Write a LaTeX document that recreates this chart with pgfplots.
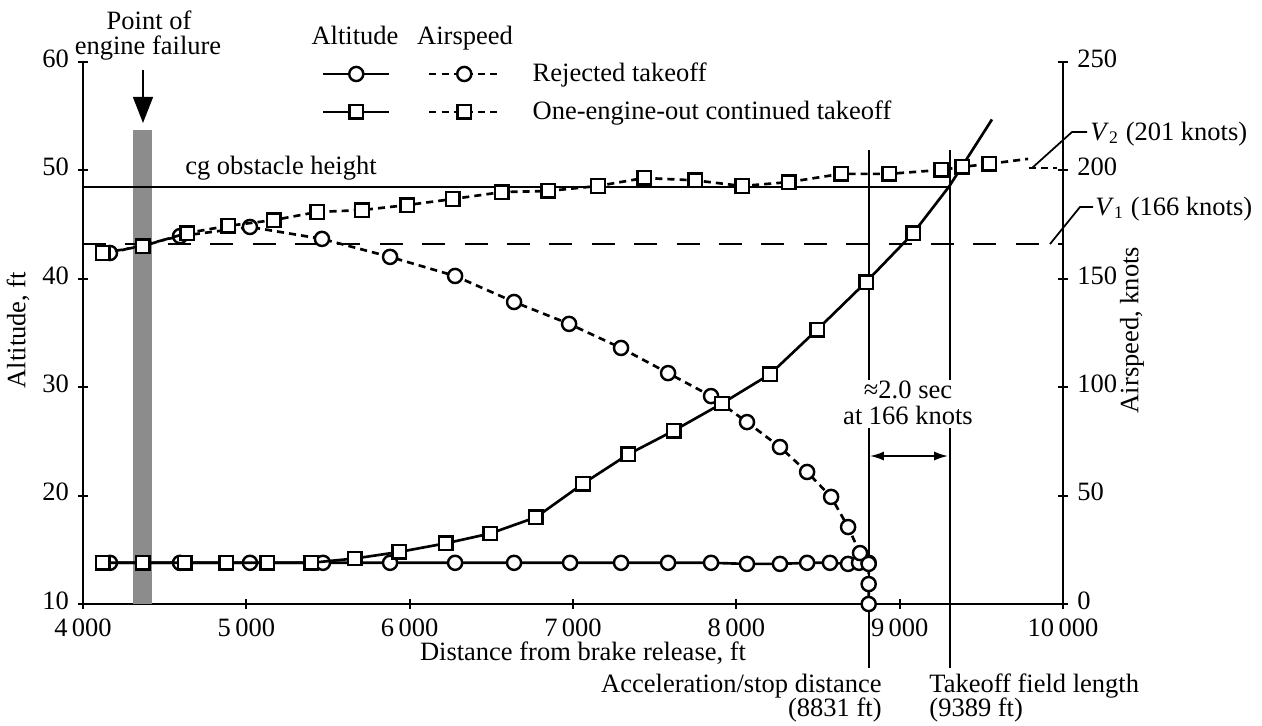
\documentclass[12pt,border=0pt]{standalone}
\usepackage{fontspec}
\setmainfont{Liberation Serif}
\usepackage{pgfplots}
\pgfplotsset{compat=1.18}
\usetikzlibrary{arrows.meta}
\newlength\px
\setlength\px{0.4528pt}
\tikzset{
  circ/.style={line width=1.2pt, mark=*, mark size=3.2pt, mark options={fill=white, solid, line width=1.1pt}},
  sq/.style={line width=1.2pt, mark=square*, mark size=3.05pt, mark options={fill=white, solid, line width=1.1pt}},
  shortdash/.style={dash pattern=on 3.2pt off 2.3pt},
}
\pgfplotsset{
  common/.style={
    width=443.77pt, height=245.43pt, scale only axis,
    at={(0,0)}, anchor=south west,
    xmin=4000, xmax=10000, clip=false,
    scaled ticks=false,
    tick align=inside, major tick length=4.5pt,
    tick style={black, line width=1pt},
    /pgf/number format/assume math mode=true,
    tick label style={font=\fontsize{12pt}{14pt}\selectfont},
    yticklabel style={yshift=1.5pt},
  },
  axlines/.style={
    axis line style={line width=1.3pt,-},
    every outer x axis line/.append style={-},
    every outer y axis line/.append style={-},
  },
}
\begin{document}
\begin{tikzpicture}
\path[use as bounding box] (-83\px,-121\px) rectangle (1179\px,604\px);

% Axis A: altitude, visible left/bottom
\begin{axis}[common,
  ymin=10, ymax=60, ytick={10,20,...,60},
  xtick={4000,5000,...,10000},
  xticklabels={4\,000,5\,000,6\,000,7\,000,8\,000,9\,000,10\,000},
  xticklabel style={yshift=-0.5pt},
  axis x line=bottom, axis y line=left, axlines]
  \fill[black!45] (axis cs:4306,10) rectangle (axis cs:4422,53.7);
  \draw[line width=0.9pt] (axis cs:4000,48.5) -- (axis cs:9308,48.5);
  \draw[line width=0.9pt] (axis cs:8810,51.88) -- (axis cs:8810,30.66);
  \draw[line width=0.9pt] (axis cs:8810,26.24) -- (axis cs:8810,4.10);
  \draw[line width=0.9pt] (axis cs:9308,51.88) -- (axis cs:9308,30.66);
  \draw[line width=0.9pt] (axis cs:9308,26.24) -- (axis cs:9308,4.10);
  \addplot[circ] coordinates {(4165,13.8)(4594,13.8)(5022,13.8)(5469,13.8)(5880,13.8)(6278,13.8)(6639,13.8)(6982,13.8)(7294,13.8)(7582,13.8)(7845,13.8)(8065,13.7)(8267,13.7)(8433,13.8)(8573,13.8)(8684,13.7)(8751,13.8)(8810,13.8)};
\end{axis}

% Axis B: airspeed, visible right
\begin{axis}[common,
  ymin=0, ymax=250, ytick={0,50,...,250},
  axis y line=right, axis x line=none, axlines]
  \draw[line width=1.1pt, dash pattern=on 10.4pt off 8.8pt] (axis cs:4000,166) -- (axis cs:10000,166);
  \draw[line width=1.1pt, shortdash] (axis cs:9790,201) -- (axis cs:9960,201);
  \addplot[circ, shortdash] coordinates {(4165,161.9)(4594,169.7)(5022,173.9)(5463,168.4)(5880,160.1)(6278,151.3)(6639,139.3)(6976,129.2)(7294,118.1)(7582,106.5)(7845,95.9)(8065,83.9)(8267,72.4)(8433,60.9)(8580,49.4)(8684,35.5)(8757,23.5)(8810,18.5)(8810,9.2)(8810,0)};
\end{axis}

% Axis C: altitude, hidden, continued takeoff
\begin{axis}[common, ymin=10, ymax=60, hide axis]
  \addplot[line width=1.2pt] coordinates {(9082,44.2)(9302,48.5)(9565,54.7)};
  \addplot[sq] coordinates {(4122,13.8)(4367,13.8)(4624,13.8)(4876,13.8)(5127,13.8)(5396,13.8)(5665,14.2)(5935,14.8)(6222,15.6)(6492,16.5)(6773,18.0)(7061,21.1)(7337,23.8)(7618,26.0)(7912,28.5)(8206,31.2)(8494,35.3)(8794,39.7)(9082,44.2)};
\end{axis}

% Axis D: airspeed, hidden, continued takeoff + legend
\begin{axis}[common, ymin=0, ymax=250, hide axis,
  legend cell align=left,
  legend style={at={(0.2439,1.0129)}, anchor=north west, draw=none, fill=none,
    inner sep=0pt, outer sep=0pt, column sep=14.5pt, row sep=0pt,
    font=\fontsize{12pt}{14pt}\selectfont,
    nodes={inner sep=0pt, minimum height=17.2pt}}]
  \addplot[line width=1.2pt, shortdash, forget plot] coordinates {(9547,203.0)(9786,205.3)};
  \addplot[sq, shortdash, forget plot] coordinates {(4122,161.9)(4367,165.1)(4637,171.1)(4888,174.4)(5169,177.1)(5433,180.8)(5708,181.7)(5984,184.0)(6265,186.8)(6565,190.0)(6847,190.5)(7153,192.8)(7435,196.5)(7747,195.4)(8035,192.8)(8322,194.6)(8641,198.4)(8935,198.4)(9253,200.2)(9382,201.6)(9547,203.0)};
  \addlegendimage{legend image code/.code={
    \draw[line width=1.2pt] (0,0) -- (29.9pt,0);
    \draw[line width=1.2pt, mark=*, mark size=3.2pt, mark options={fill=white,solid,line width=1.1pt}] plot coordinates {(14.9pt,0)};
    \draw[line width=1.2pt, dash pattern=on 3.2pt off 2.3pt] (48pt,0) -- (79.7pt,0);
    \draw[line width=1.2pt, mark=*, mark size=3.2pt, mark options={fill=white,solid,line width=1.1pt}] plot coordinates {(63.8pt,0)};
  }}
  \addlegendentry{Rejected takeoff}
  \addlegendimage{legend image code/.code={
    \draw[line width=1.2pt] (0,0) -- (29.9pt,0);
    \draw[line width=1.2pt, mark=square*, mark size=3.05pt, mark options={fill=white,solid,line width=1.1pt}] plot coordinates {(14.9pt,0)};
    \draw[line width=1.2pt, dash pattern=on 3.2pt off 2.3pt] (48pt,0) -- (79.7pt,0);
    \draw[line width=1.2pt, mark=square*, mark size=3.05pt, mark options={fill=white,solid,line width=1.1pt}] plot coordinates {(63.8pt,0)};
  }}
  \addlegendentry{One-engine-out continued takeoff}
\end{axis}

\begin{scope}[every node/.style={inner sep=0pt, font=\fontsize{12pt}{14pt}\selectfont}]
  \node[anchor=base] at (500\px,-56\px) {Distance from brake release, ft};
  \node[rotate=90] at (-65\px,274\px) {Altitude, ft};
  \node[rotate=90] at (1049\px,274\px) {Airspeed, knots};
  \node[anchor=base] at (66\px,574\px) {Point of};
  \node[anchor=base] at (65\px,550\px) {engine failure};
  \draw[line width=0.9pt,-{Triangle[length=11.8pt,width=9pt]}] (60\px,534\px) -- (60\px,481\px);
  \node[anchor=base] at (198\px,430\px) {cg obstacle height};
  \node[anchor=base] at (825\px,206\px) {≈2.0 sec};
  \node[anchor=base] at (825\px,180\px) {at 166 knots};
  \draw[line width=0.8pt,{Latex[length=6.3pt,width=4.1pt]}-{Latex[length=6.3pt,width=4.1pt]}] (787\px,148\px) -- (865\px,148\px);
  \node[anchor=base east] at (799\px,-88\px) {Acceleration/stop distance};
  \node[anchor=base east] at (799\px,-112\px) {(8831 ft)};
  \node[anchor=base west] at (846\px,-88\px) {Takeoff field length};
  \node[anchor=base west] at (846\px,-112\px) {(9389 ft)};
  \node[anchor=base] at (272\px,560\px) {Altitude};
  \node[anchor=base] at (382\px,560\px) {Airspeed};
  \draw[line width=0.8pt] (967\px,360\px) -- (997\px,397\px) -- (1010\px,397\px);
  \node[anchor=base west] at (1012\px,389\px) {\textit{V}\textsubscript{1} (166 knots)};
  \draw[line width=0.8pt] (949\px,436\px) -- (989\px,472\px) -- (1004\px,472\px);
  \node[anchor=base west] at (1007\px,464\px) {\textit{V}\textsubscript{2} (201 knots)};
\end{scope}
\end{tikzpicture}
\end{document}
